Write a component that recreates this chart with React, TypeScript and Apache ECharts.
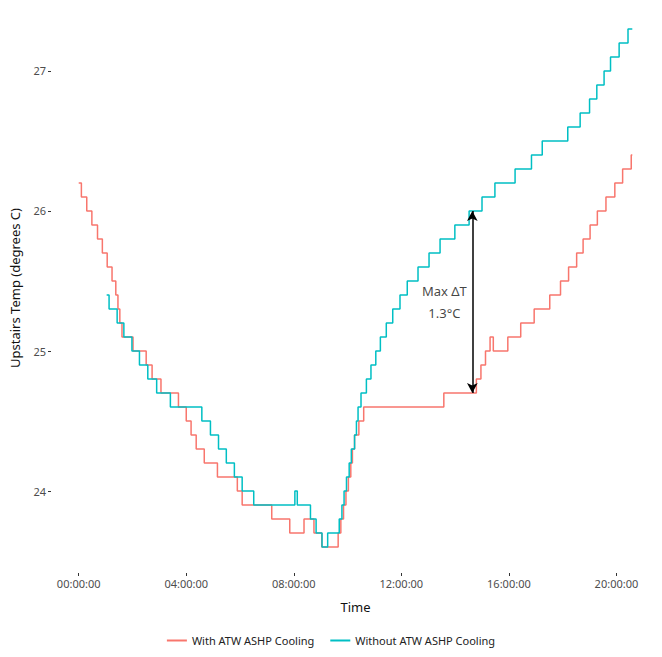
import { useEffect, useRef } from 'react';
import * as echarts from 'echarts';

// change points: [hour, temp]; value holds until the next point
const withCooling: [number, number][] = [
  [0, 26.2], [0.1, 26.1], [0.3, 26.0], [0.49, 25.9], [0.7, 25.8], [0.88, 25.7], [1.06, 25.6],
  [1.24, 25.5], [1.38, 25.4], [1.46, 25.3], [1.53, 25.2], [1.61, 25.1], [2.02, 25.0], [2.51, 24.9],
  [2.73, 24.8], [3.06, 24.7], [3.71, 24.6], [4.0, 24.5], [4.18, 24.4], [4.37, 24.3], [4.67, 24.2],
  [5.16, 24.1], [5.9, 24.0], [6.08, 23.9], [7.18, 23.8], [7.85, 23.7], [8.38, 23.8], [8.75, 23.7],
  [9.04, 23.6], [9.65, 23.7], [9.75, 23.8], [9.85, 23.9], [9.94, 24.0], [10.03, 24.1], [10.12, 24.2],
  [10.18, 24.3], [10.26, 24.4], [10.42, 24.5], [10.6, 24.6], [13.58, 24.7], [14.79, 24.8],
  [14.96, 24.9], [15.13, 25.0], [15.3, 25.1], [15.42, 25.0], [15.96, 25.1], [16.44, 25.2],
  [16.94, 25.3], [17.52, 25.4], [17.92, 25.5], [18.22, 25.6], [18.52, 25.7], [18.76, 25.8],
  [19.02, 25.9], [19.29, 26.0], [19.61, 26.1], [19.94, 26.2], [20.23, 26.3], [20.55, 26.4], [20.59, 26.4],
];

const withoutCooling: [number, number][] = [
  [1.04, 25.4], [1.13, 25.3], [1.43, 25.2], [1.68, 25.1], [1.98, 25.0], [2.26, 24.9], [2.57, 24.8],
  [2.9, 24.7], [3.41, 24.6], [4.58, 24.5], [4.9, 24.4], [5.2, 24.3], [5.49, 24.2], [5.79, 24.1],
  [6.08, 24.0], [6.51, 23.9], [8.04, 24.0], [8.13, 23.9], [8.62, 23.8], [8.83, 23.7], [9.05, 23.6],
  [9.26, 23.7], [9.69, 23.8], [9.79, 23.9], [9.87, 24.0], [9.96, 24.1], [10.06, 24.2], [10.14, 24.3],
  [10.26, 24.4], [10.33, 24.5], [10.39, 24.6], [10.5, 24.7], [10.7, 24.8], [10.87, 24.9],
  [11.05, 25.0], [11.22, 25.1], [11.44, 25.2], [11.68, 25.3], [11.95, 25.4], [12.22, 25.5],
  [12.62, 25.6], [13.03, 25.7], [13.44, 25.8], [13.99, 25.9], [14.52, 26.0], [15.0, 26.1],
  [15.48, 26.2], [16.23, 26.3], [16.84, 26.4], [17.24, 26.5], [18.19, 26.6], [18.65, 26.7],
  [19.0, 26.8], [19.27, 26.9], [19.54, 27.0], [19.78, 27.1], [20.1, 27.2], [20.43, 27.3], [20.59, 27.3],
];

const xTicks = [0, 4, 8, 12, 16, 20];
const yTicks = [24, 25, 26, 27];
const arrowHour = 14.64;
const arrowRange = [24.7, 26.0];

const FONT = '"Noto Sans", "Open Sans", sans-serif';

export default function App() {
  const ref = useRef<HTMLDivElement>(null);

  useEffect(() => {
    if (!ref.current) return;
    const chart = echarts.init(ref.current, undefined, { renderer: 'svg' });
    const pad = (h: number) => `${String(h).padStart(2, '0')}:00:00`;
    chart.setOption({
      animation: false,
      textStyle: { fontFamily: FONT },
      grid: { left: 44, right: 2, top: 3, bottom: 84 },
      legend: {
        bottom: 6,
        itemWidth: 20,
        itemHeight: 2,
        itemGap: 16,
        textStyle: { fontSize: 11, color: '#222', fontFamily: FONT },
        data: [
          { name: 'With ATW ASHP Cooling', icon: 'rect' },
          { name: 'Without ATW ASHP Cooling', icon: 'rect' },
        ],
      },
      xAxis: {
        type: 'value', min: -1.03, max: 21.62,
        name: 'Time', nameLocation: 'middle', nameGap: 27,
        nameTextStyle: { fontSize: 13, color: '#111' },
        splitLine: { show: false },
        axisLine: { show: false, onZero: false },
        axisTick: { show: true, customValues: xTicks, length: 3, lineStyle: { color: '#333' } },
        axisLabel: { customValues: xTicks, formatter: (v: number) => pad(v), fontSize: 11, color: '#4d4d4d', margin: 5 },
      },
      yAxis: {
        type: 'value', min: 23.415, max: 27.485,
        name: 'Upstairs Temp (degrees C)', nameLocation: 'middle', nameGap: 30,
        nameTextStyle: { fontSize: 13, color: '#111' },
        splitLine: { show: false },
        axisLine: { show: false, onZero: false },
        axisTick: { show: true, customValues: yTicks, length: 3, lineStyle: { color: '#333' } },
        axisLabel: { customValues: yTicks, fontSize: 11, color: '#4d4d4d', margin: 5 },
      },
      series: [
        {
          name: 'With ATW ASHP Cooling', type: 'line', step: 'end', data: withCooling,
          showSymbol: false, color: '#F8766D', lineStyle: { width: 1.5 },
        },
        {
          name: 'Without ATW ASHP Cooling', type: 'line', step: 'end', data: withoutCooling,
          showSymbol: false, color: '#00BFC4', lineStyle: { width: 1.5 },
        },
        {
          type: 'line', data: [], silent: true,
          markLine: {
            silent: true, symbol: ['arrow', 'arrow'], symbolSize: [8, 10],
            lineStyle: { color: '#000', width: 1.5, type: 'solid' }, label: { show: false },
            data: [[{ coord: [arrowHour, arrowRange[0]] }, { coord: [arrowHour, arrowRange[1]] }]],
          },
        },
        {
          type: 'scatter', data: [[13.6, 25.35]], symbolSize: 0, silent: true,
          label: {
            show: true, position: 'inside', formatter: 'Max ΔT\n1.3°C',
            fontSize: 13, color: '#111', lineHeight: 22, fontFamily: FONT,
          },
        },
      ],
    });
    return () => chart.dispose();
  }, []);

  return <div ref={ref} style={{ width: 662, height: 657, margin: -8 }} />;
}
